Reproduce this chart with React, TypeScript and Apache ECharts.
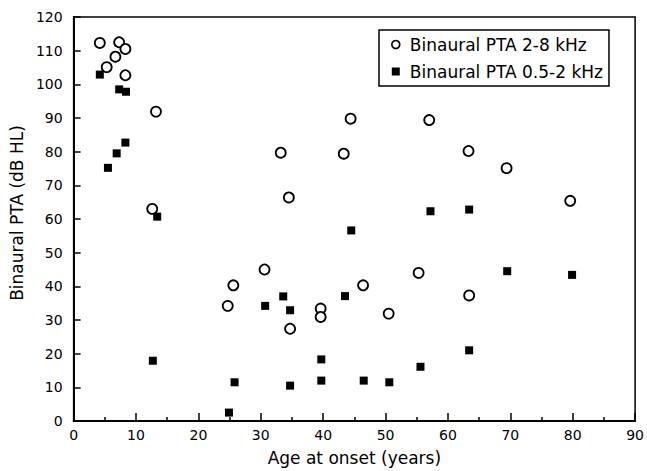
import React, { useEffect, useRef } from "react";
import * as echarts from "echarts";

// Age at onset (years) and binaural PTA (dB HL)
const highAges = [4.2, 5.3, 6.7, 7.3, 8.3, 8.3, 12.6, 13.2, 24.7, 25.6, 30.6, 33.2, 34.5, 34.7, 39.6, 39.6, 43.3, 44.4, 46.4, 50.5, 55.3, 57.0, 63.3, 63.4, 69.4, 79.6];
const highPTA = [112.3, 105.1, 108.2, 112.5, 110.5, 102.7, 63.0, 91.9, 34.2, 40.3, 45.0, 79.7, 66.4, 27.4, 33.4, 30.9, 79.4, 89.8, 40.3, 31.9, 44.0, 89.4, 80.2, 37.3, 75.1, 65.4];

const lowAges = [4.2, 5.5, 6.9, 7.3, 8.4, 8.3, 12.7, 13.4, 24.9, 25.8, 30.7, 33.6, 34.7, 34.7, 39.7, 39.7, 43.5, 44.5, 46.5, 50.6, 55.6, 57.2, 63.4, 63.4, 69.5, 79.9];
const lowPTA = [102.9, 75.2, 79.5, 98.5, 97.8, 82.7, 17.9, 60.7, 2.5, 11.5, 34.2, 37.0, 32.9, 10.5, 18.3, 12.0, 37.1, 56.6, 12.0, 11.5, 16.1, 62.3, 62.8, 21.0, 44.5, 43.4];

const seriesNames = ["Binaural PTA 2-8 kHz", "Binaural PTA 0.5-2 kHz"];
const xAxisName = "Age at onset (years)";
const yAxisName = "Binaural PTA (dB HL)";

const FONT = "DejaVu Sans";

export default function App() {
  const ref = useRef<HTMLDivElement>(null);
  useEffect(() => {
    const chart = echarts.init(ref.current!, null, { renderer: "svg" });
    const pair = (xs: number[], ys: number[]) => xs.map((x, i) => [x, ys[i]]);
    chart.setOption({
      animation: false,
      backgroundColor: "#fff",
      grid: {
        left: 71,
        right: 10,
        top: 17,
        bottom: 48,
        show: true,
        borderColor: "#000",
        borderWidth: 1.5,
      },
      legend: {
        left: 379,
        top: 30,
        orient: "vertical",
        padding: [6, 6, 6, 12],
        itemGap: 10,
        itemWidth: 8,
        itemHeight: 8,
        borderColor: "#000",
        borderWidth: 1.5,
        borderRadius: 0,
        textStyle: { fontFamily: FONT, fontSize: 17, color: "#000", lineHeight: 16, padding: [0, 0, 0, 5] },
        data: [
          { name: seriesNames[0], icon: "circle", itemStyle: { color: "#fff", borderColor: "#000", borderWidth: 1.6 } },
          { name: seriesNames[1], icon: "rect", itemStyle: { color: "#000", borderWidth: 0 } },
        ],
      },
      xAxis: {
        type: "value",
        min: 0,
        max: 90,
        interval: 10,
        name: xAxisName,
        nameLocation: "middle",
        nameGap: 28,
        nameTextStyle: { fontFamily: FONT, fontSize: 17, color: "#000" },
        axisLine: { show: true, onZero: false, lineStyle: { color: "#000", width: 2 } },
        axisTick: { show: true, inside: true, length: 8, lineStyle: { color: "#000", width: 1.5 } },
        minorTick: { show: true, splitNumber: 2, length: 4, lineStyle: { color: "#000", width: 1.5 } },
        axisLabel: { fontFamily: FONT, fontSize: 14, color: "#000", margin: 7 },
        splitLine: { show: false },
      },
      yAxis: {
        type: "value",
        min: 0,
        max: 120,
        interval: 10,
        name: yAxisName,
        nameLocation: "middle",
        nameGap: 42,
        nameTextStyle: { fontFamily: FONT, fontSize: 17, color: "#000", padding: [0, 0, 0, 12] },
        axisLine: { show: true, onZero: false, lineStyle: { color: "#000", width: 2 } },
        axisTick: { show: true, inside: true, length: 7, lineStyle: { color: "#000", width: 1.5 } },
        axisLabel: { fontFamily: FONT, fontSize: 14, color: "#000", margin: 11 },
        splitLine: { show: false },
      },
      series: [
        {
          name: seriesNames[0],
          type: "scatter",
          symbol: "circle",
          symbolSize: 10,
          itemStyle: { color: "#fff", borderColor: "#000", borderWidth: 1.8, opacity: 1 },
          data: pair(highAges, highPTA),
          z: 3,
        },
        {
          name: seriesNames[1],
          type: "scatter",
          symbol: "rect",
          symbolSize: 8,
          itemStyle: { color: "#000", opacity: 1 },
          data: pair(lowAges, lowPTA),
          z: 2,
        },
      ],
    });
    return () => chart.dispose();
  }, []);
  return (
    <div
      ref={ref}
      style={{ position: "absolute", left: 0, top: 0, width: 647, height: 471, background: "#fff" }}
    />
  );
}
